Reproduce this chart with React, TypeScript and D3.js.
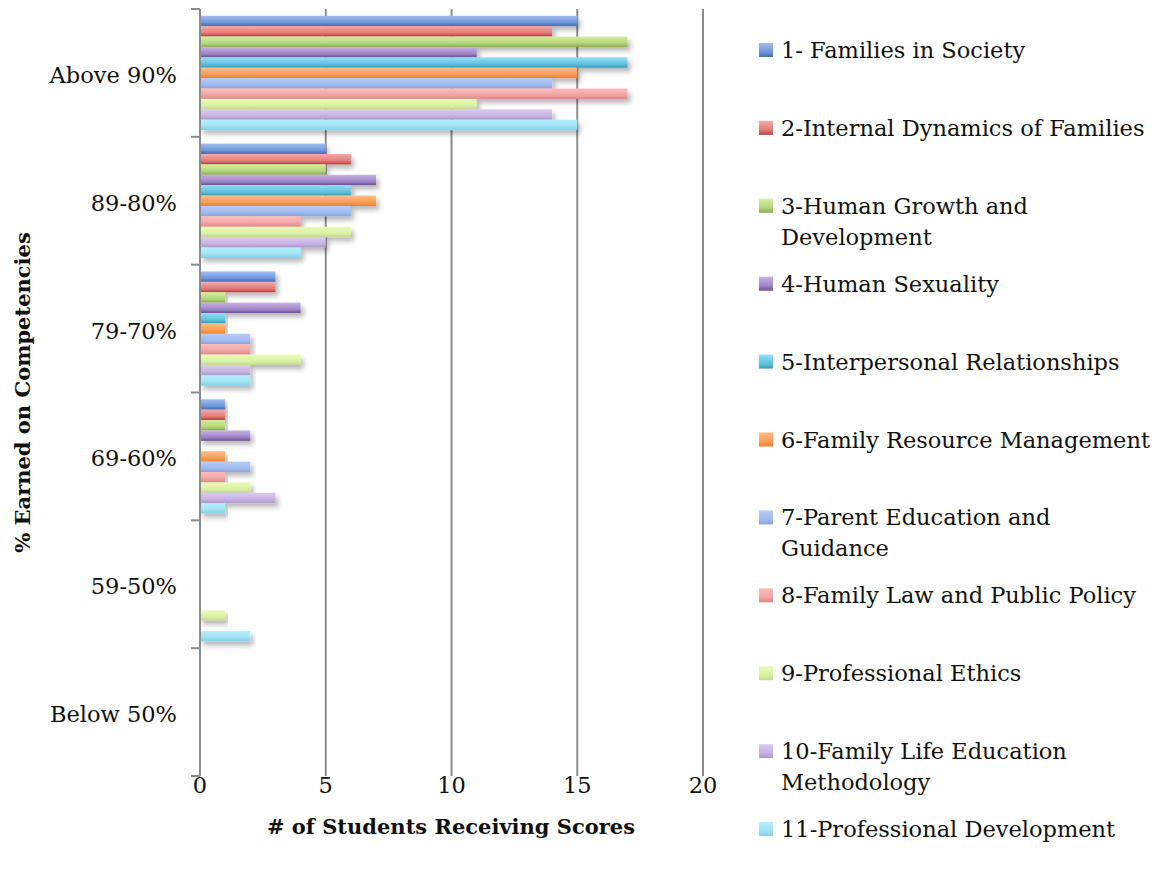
import * as d3 from 'd3'

const categories = ['Above 90%', '89-80%', '79-70%', '69-60%', '59-50%', 'Below 50%']

const seriesNames = [
  '1- Families in Society',
  '2-Internal Dynamics of Families',
  '3-Human Growth and Development',
  '4-Human Sexuality',
  '5-Interpersonal Relationships',
  '6-Family Resource Management',
  '7-Parent Education and Guidance',
  '8-Family Law and Public Policy',
  '9-Professional Ethics',
  '10-Family Life Education Methodology',
  '11-Professional Development',
]

// legend text lines (wrapped as in the reference)
const legendLines = [
  ['1- Families in Society'],
  ['2-Internal Dynamics of Families'],
  ['3-Human Growth and', 'Development'],
  ['4-Human Sexuality'],
  ['5-Interpersonal Relationships'],
  ['6-Family Resource Management'],
  ['7-Parent Education and', 'Guidance'],
  ['8-Family Law and Public Policy'],
  ['9-Professional Ethics'],
  ['10-Family Life Education', 'Methodology'],
  ['11-Professional Development'],
]

// values per series, one entry per category
const s1 = [15, 5, 3, 1, 0, 0]
const s2 = [14, 6, 3, 1, 0, 0]
const s3 = [17, 5, 1, 1, 0, 0]
const s4 = [11, 7, 4, 2, 0, 0]
const s5 = [17, 6, 1, 0, 0, 0]
const s6 = [15, 7, 1, 1, 0, 0]
const s7 = [14, 6, 2, 2, 0, 0]
const s8 = [17, 4, 2, 1, 0, 0]
const s9 = [11, 6, 4, 2, 1, 0]
const s10 = [14, 5, 2, 3, 0, 0]
const s11 = [15, 4, 2, 1, 2, 0]
const seriesValues = [s1, s2, s3, s4, s5, s6, s7, s8, s9, s10, s11]

const xTicks = [0, 5, 10, 15, 20]

// [light top, mid, dark bottom]
const palette = [
  ['#a2bdf0', '#6f96d8', '#3d6cb8'],
  ['#f7a9a7', '#e07c7a', '#bb3f3c'],
  ['#d3ef9f', '#b4d57a', '#8aad4c'],
  ['#c7b2e6', '#9e84c4', '#6d5096'],
  ['#92def7', '#5fc1de', '#3a9cba'],
  ['#ffbd8a', '#fa9c55', '#ef7f28'],
  ['#b6cdf8', '#9fb9ec', '#88a3d8'],
  ['#fcbcbc', '#f0a3a3', '#de8686'],
  ['#e9fbb8', '#d9efa6', '#c3d98d'],
  ['#dccaf3', '#c5b1e3', '#ad98ce'],
  ['#b4f0ff', '#9de2f4', '#85d0e5'],
]

const W = 1154
const H = 870
const plot = { left: 200, right: 703, top: 9, bottom: 776 }
const font = 'DejaVu Serif, serif'

export default function App() {
  const x = d3.scaleLinear().domain([0, 20]).range([plot.left, plot.right])
  const y = d3.scaleBand<string>().domain(categories).range([plot.top, plot.bottom]).paddingInner(0).paddingOuter(0)
  const yInner = d3.scaleBand<number>()
    .domain(d3.range(seriesNames.length))
    .range([0, y.bandwidth()])
    .paddingInner(0)
    .paddingOuter(0.65)

  const boundaries = categories.map((c) => y(c) as number).concat([plot.bottom])
  const legendY = d3.scaleLinear().domain([0, 10]).range([50, 829])

  return (
    <svg width={W} height={H} style={{ position: 'absolute', left: 0, top: 0, background: '#fff' }}>
      <defs>
        {palette.map((p, i) => (
          <linearGradient key={i} id={`g${i}`} x1="0" y1="0" x2="0" y2="1">
            <stop offset="0" stopColor={p[0]} />
            <stop offset="0.65" stopColor={p[1]} />
            <stop offset="1" stopColor={p[2]} />
          </linearGradient>
        ))}
        <filter id="shadow" x="-5%" y="-60%" width="115%" height="280%">
          <feDropShadow dx="3" dy="4" stdDeviation="2.5" floodColor="#000" floodOpacity="0.28" />
        </filter>
      </defs>

      {/* gridlines */}
      {xTicks.slice(1).map((t) => (
        <line key={t} x1={x(t)} x2={x(t)} y1={plot.top} y2={plot.bottom} stroke="#8c8c8c" strokeWidth={2} />
      ))}

      {/* bars */}
      {categories.map((c, ci) => (
        <g key={c} transform={`translate(0,${y(c)})`}>
          {seriesValues.map((vals, si) =>
            vals[ci] > 0 ? (
              <rect
                key={si}
                x={x(0)}
                y={yInner(si)}
                width={x(vals[ci]) - x(0)}
                height={yInner.bandwidth()}
                fill={`url(#g${si})`}
                filter="url(#shadow)"
              />
            ) : null
          )}
        </g>
      ))}

      {/* y axis */}
      <line x1={plot.left} x2={plot.left} y1={plot.top} y2={plot.bottom} stroke="#8c8c8c" strokeWidth={2} />
      {boundaries.map((b, i) => (
        <line key={i} x1={plot.left - 9} x2={plot.left} y1={b} y2={b} stroke="#8c8c8c" strokeWidth={2} />
      ))}
      {categories.map((c) => (
        <text
          key={c}
          x={177}
          y={(y(c) as number) + y.bandwidth() / 2 + 2}
          textAnchor="end"
          dominantBaseline="central"
          fontFamily={font}
          fontSize={22.5}
          fill="#111"
        >
          {c}
        </text>
      ))}

      {/* x tick labels */}
      {xTicks.map((t) => (
        <text key={t} x={x(t)} y={793} textAnchor="middle" fontFamily={font} fontSize={22.5} fill="#111">
          {t}
        </text>
      ))}

      {/* axis titles */}
      <text x={451} y={834} textAnchor="middle" fontFamily={font} fontSize={21} fontWeight="bold" fill="#111">
        # of Students Receiving Scores
      </text>
      <text
        transform={`translate(30,${(plot.top + plot.bottom) / 2}) rotate(-90)`}
        textAnchor="middle"
        fontFamily={font}
        fontSize={21}
        fontWeight="bold"
        fill="#111"
      >
        % Earned on Competencies
      </text>

      {/* legend */}
      {legendLines.map((lines, i) => {
        const cy = legendY(i)
        return (
          <g key={i}>
            <rect x={759} y={cy - 7} width={14} height={14} fill={`url(#g${i})`} />
            {lines.map((ln, li) => (
              <text
                key={li}
                x={781}
                y={cy + li * 31}
                dominantBaseline="central"
                fontFamily={font}
                fontSize={22.5}
                fill="#111"
              >
                {ln}
              </text>
            ))}
          </g>
        )
      })}
    </svg>
  )
}
